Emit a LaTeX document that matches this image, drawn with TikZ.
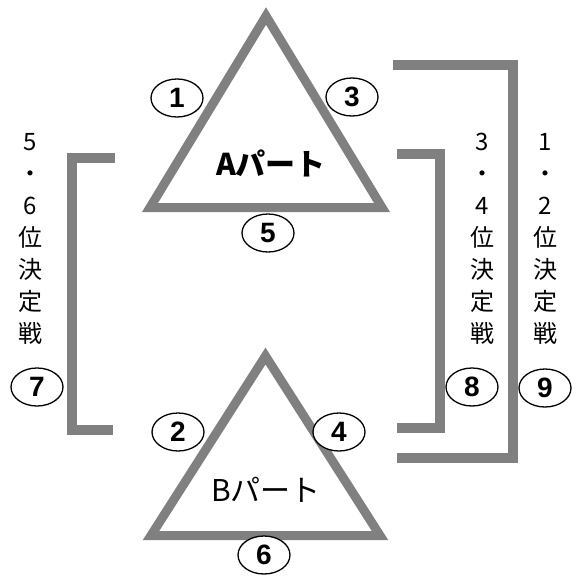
\documentclass[tikz,border=0pt]{standalone}
\usepackage{fontspec}
\setmainfont{Liberation Sans}
\newfontfamily\jp{Noto Sans CJK JP}
\usetikzlibrary{shapes.geometric}
\definecolor{triGray}{HTML}{808080}
\begin{document}
\begin{tikzpicture}[x=1pt,y=-1pt,
  tri/.style={draw=triGray, line width=9pt, miter limit=10, line join=miter},
  brk/.style={draw=triGray, line width=10pt, line join=miter},
  num/.style={ellipse, draw=black, line width=1.3pt, fill=white, minimum width=52pt, minimum height=38pt, inner sep=0pt, font=\fontsize{28}{28}\selectfont\bfseries},
  part/.style={inner sep=0pt},
  vlab/.style={align=center, font=\jp\fontsize{24}{32}\selectfont, inner sep=0pt}]
\useasboundingbox (0,0) rectangle (579,582);
\fill[white] (0,0) rectangle (579,582);
% triangles
\draw[tri] (266,16) -- (382,207.5) -- (150,207.5) -- cycle;
\draw[tri] (265.5,356) -- (380,535.5) -- (151,535.5) -- cycle;
% brackets
\draw[brk] (115,158) -- (72,158) -- (72,430) -- (113,430);
\draw[brk] (397,154) -- (440,154) -- (440,428) -- (397,428);
\draw[brk] (393,65) -- (513,65) -- (513,458) -- (397,458);
% part labels
\node[part, font=\jp\bfseries\fontsize{30}{30}\selectfont] (pa) at (271,163) {Aパート};
\node[part, font=\jp\fontsize{30}{30}\selectfont] (pb) at (266,490) {Bパート};
% vertical labels
\node[vlab] (l56) at (30,238.5) {5\\・\\6\\位\\決\\定\\戦};
\node[vlab] (l34) at (482,238.5) {3\\・\\4\\位\\決\\定\\戦};
\node[vlab] (l12) at (545,238.5) {1\\・\\2\\位\\決\\定\\戦};
% numbered ellipses
\node[num] (n1) at (177,98) {1};
\node[num] (n3) at (352,97) {3};
\node[num] (n5) at (268,233) {5};
\node[num] (n2) at (178,432) {2};
\node[num] (n4) at (339,432) {4};
\node[num] (n6) at (264,555) {6};
\node[num] (n7) at (37,387) {7};
\node[num] (n8) at (472,387) {8};
\node[num] (n9) at (545,388) {9};
\end{tikzpicture}
\end{document}
